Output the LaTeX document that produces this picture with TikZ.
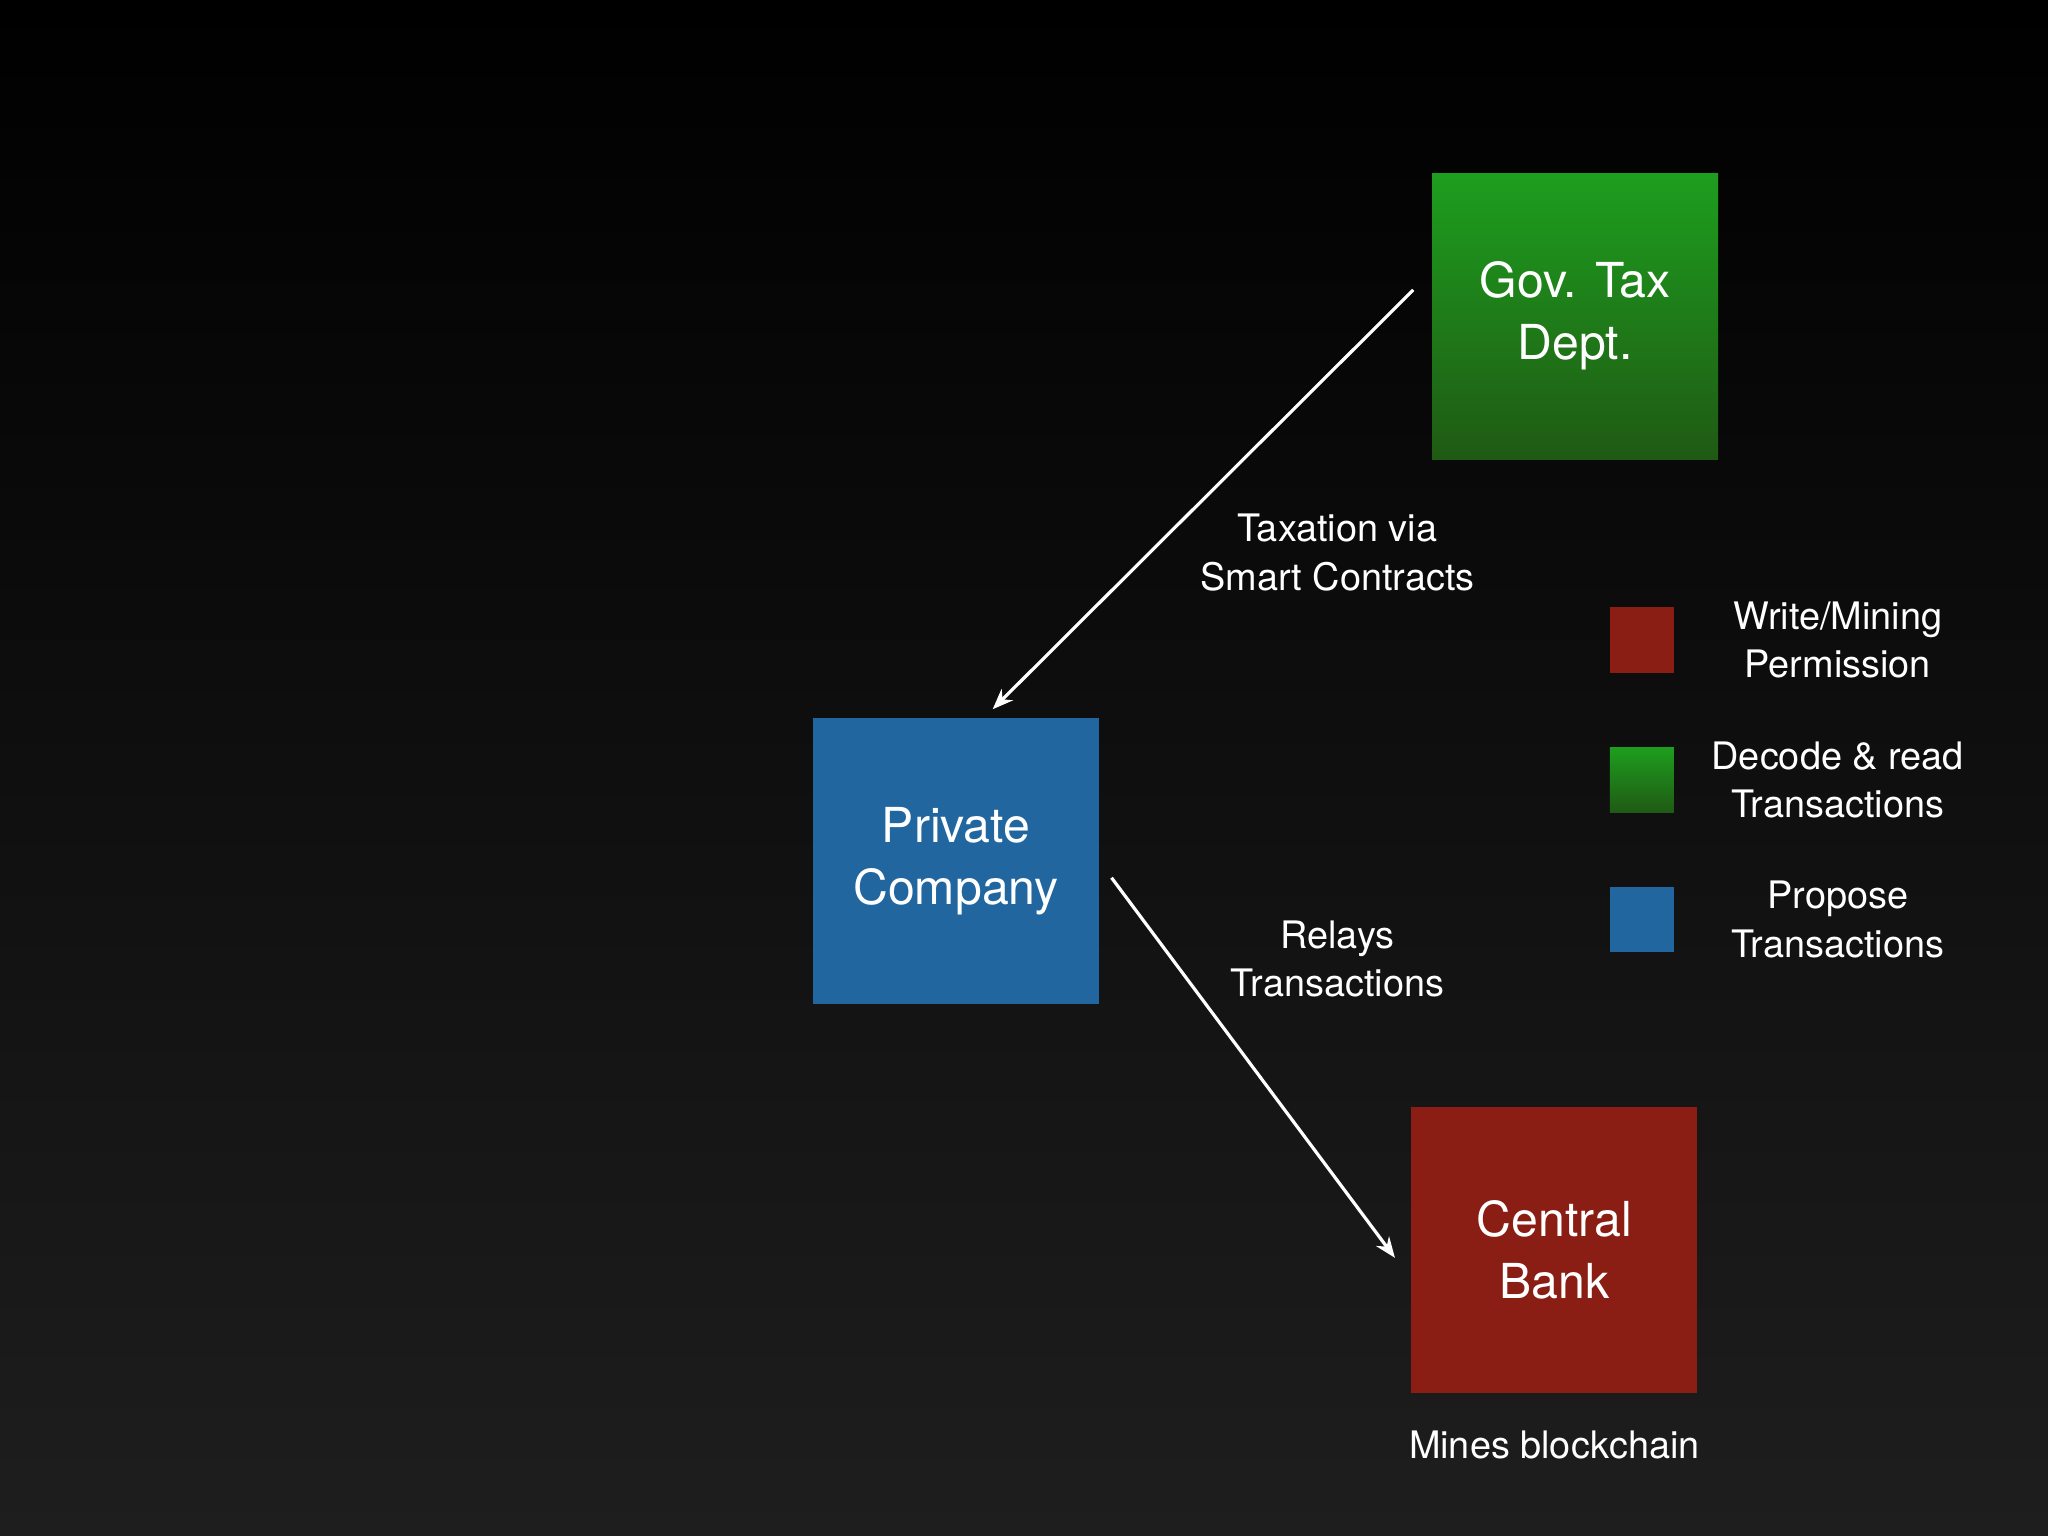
\documentclass[tikz,border=0pt]{standalone}
\usepackage{fontspec}
\setmainfont{TeX Gyre Heros}
\usetikzlibrary{arrows.meta}
\definecolor{gtop}{HTML}{1E9E1E}\definecolor{gbot}{HTML}{1F5A14}
\definecolor{pblue}{HTML}{2266A0}\definecolor{cred}{HTML}{8B1E14}
\definecolor{bgbot}{HTML}{1E1E1F}
\tikzset{box/.style={minimum width=4.38cm,minimum height=4.38cm,inner sep=0pt,align=center,text=white,font=\fontsize{21}{27}\selectfont},
lab/.style={align=center,text=white,font=\fontsize{16.5}{21}\selectfont},
leg/.style={minimum width=0.98cm,minimum height=1cm,inner sep=0pt},
arr/.style={white,line width=1.4pt,-{Stealth[length=9pt,width=7pt]}}}
\begin{document}
\begin{tikzpicture}[x=0.02cm,y=-0.02cm]
\shade[top color=black,bottom color=bgbot] (0,0) rectangle (1568,1176);
\node[box,top color=gtop,bottom color=gbot] (gov) at (1206,242) {Gov. Tax\\Dept.};
\node[box,fill=pblue] (pc) at (732,659) {Private\\Company};
\node[box,fill=cred] (cb) at (1190,957) {Central\\Bank};
\coordinate (a1) at (1082,222); \coordinate (a2) at (760,543);
\coordinate (b1) at (851,672); \coordinate (b2) at (1068,963);
\draw[arr] (a1) -- (a2);
\draw[arr] (b1) -- (b2);
\node[lab] (t1) at (1024,423) {Taxation via\\Smart Contracts};
\node[lab] (t2) at (1024,734) {Relays\\Transactions};
\node[lab] (t3) at (1190,1106) {Mines blockchain};
\node[leg,fill=cred] (l1) at (1257,490) {};
\node[leg,top color=gtop,bottom color=gbot] (l2) at (1257,597) {};
\node[leg,fill=pblue] (l3) at (1257,704) {};
\node[lab] (lt1) at (1407,490) {Write/Mining\\Permission};
\node[lab] (lt2) at (1407,597) {Decode \& read\\Transactions};
\node[lab] (lt3) at (1407,704) {Propose\\Transactions};
\end{tikzpicture}
\end{document}
